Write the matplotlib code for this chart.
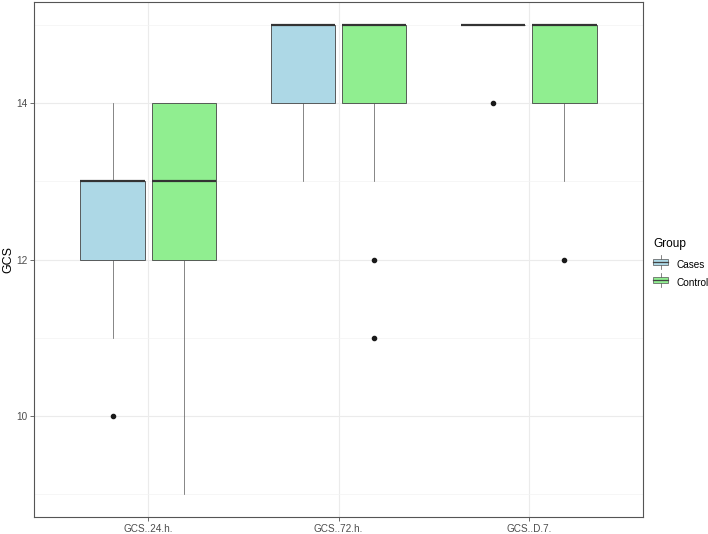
import matplotlib
matplotlib.use("Agg")
import matplotlib.pyplot as plt
from matplotlib.legend_handler import HandlerBase
from matplotlib.patches import Rectangle
from matplotlib.lines import Line2D

plt.rcParams['font.family'] = ['Liberation Sans', 'DejaVu Sans']

categorias = ["GCS..24.h.", "GCS..72.h.", "GCS..D.7."]
grupos = ["Cases", "Control"]
colores = ["#ADD8E6", "#90EE90"]

# estadisticos: (whislo, q1, med, q3, whishi, outliers)
casos = [
    (11, 12, 13, 13, 14, [10]),
    (13, 14, 15, 15, 15, []),
    (15, 15, 15, 15, 15, [14]),
]
control = [
    (9, 12, 13, 14, 14, []),
    (13, 14, 15, 15, 15, [12, 11]),
    (13, 14, 15, 15, 15, [12]),
]


def stats(lista):
    res = []
    for lo, q1, med, q3, hi, fl in lista:
        res.append(dict(whislo=lo, q1=q1, med=med, q3=q3, whishi=hi, fliers=fl))
    return res


class HandlerCaja(HandlerBase):
    def create_artists(self, legend, orig, xd, yd, w, h, fontsize, trans):
        c = orig.get_facecolor()
        lw = Line2D([xd + w / 2, xd + w / 2], [yd - 0.25 * h, yd + 1.25 * h],
                    color="#555555", lw=0.5, transform=trans)
        r = Rectangle((xd, yd + 0.15 * h), w, 0.7 * h, facecolor=c,
                      edgecolor="#555555", lw=0.5, transform=trans)
        m = Line2D([xd, xd + w], [yd + h / 2, yd + h / 2],
                   color="#444444", lw=0.9, transform=trans)
        return [lw, r, m]


fig = plt.figure(figsize=(7.08, 5.34), dpi=100)
ax = fig.add_axes([34 / 708, 17 / 534, 609 / 708, 515 / 534])

pos = [1, 2, 3]
dx = 0.1875
ancho = 0.3375
for datos, color, off in [(casos, colores[0], -dx), (control, colores[1], dx)]:
    ax.bxp(stats(datos), positions=[p + off for p in pos], widths=ancho,
           patch_artist=True, showcaps=False,
           boxprops=dict(facecolor=color, edgecolor="#444444", linewidth=0.6),
           whiskerprops=dict(color="#555555", linewidth=0.5),
           medianprops=dict(color="#333333", linewidth=1.6),
           flierprops=dict(marker="o", markerfacecolor="#1a1a1a",
                           markeredgecolor="#1a1a1a", markersize=3))

ax.set_xlim(0.4, 3.6)
ax.set_ylim(8.7, 15.3)
ax.set_xticks(pos)
ax.set_xticklabels(categorias)
ax.set_yticks([10, 12, 14])
ax.set_yticks([9, 11, 13, 15], minor=True)
ax.grid(True, which="major", color="#EBEBEB", linewidth=0.8, zorder=0)
ax.grid(True, which="minor", axis="y", color="#F3F3F3", linewidth=0.5, zorder=0)
ax.set_axisbelow(True)
for s in ax.spines.values():
    s.set_color("#555555")
    s.set_linewidth(0.8)
ax.tick_params(which="major", colors="#555555", labelcolor="#4D4D4D",
               labelsize=7.2, length=3, width=0.6, pad=2)
ax.tick_params(which="minor", length=0)
ax.set_ylabel("GCS", fontsize=9)
ax.yaxis.set_label_coords(-20 / 609, 0.5)

handles = [Rectangle((0, 0), 1, 1, facecolor=c) for c in colores]
leg = fig.legend(handles, grupos, title="Group", loc="upper left",
                 bbox_to_anchor=(644 / 708, 1 - 229 / 534), frameon=False,
                 handler_map={Rectangle: HandlerCaja()}, fontsize=7.2,
                 title_fontsize=8.6, handlelength=1.5, handleheight=1.0,
                 handletextpad=0.85, labelspacing=0.8)
leg._legend_box.align = "left"
leg._legend_box.sep = 7

fig.savefig("out.png", dpi=100)
